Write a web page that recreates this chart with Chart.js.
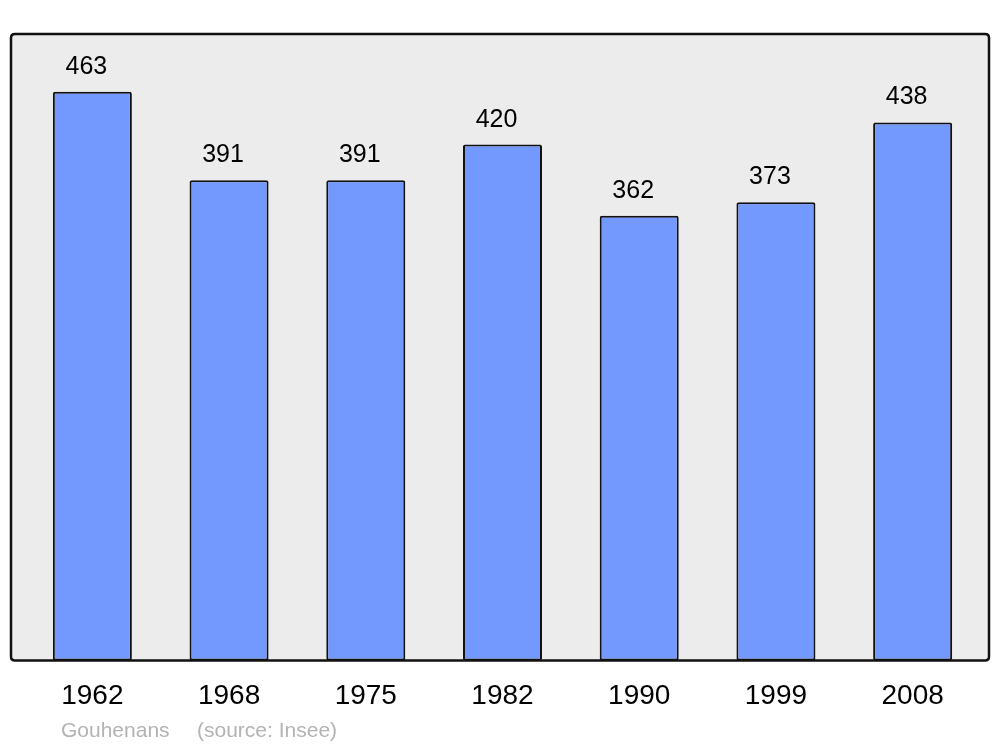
<!DOCTYPE html>
<html lang="fr">
<head>
  <meta charset="UTF-8" />
  <title>Gouhenans - population</title>
  <style>
    body { margin: 0; padding: 0; background: #ffffff; }
    #wrap { width: 1000px; height: 747px; }
  </style>
</head>
<body>
  <div id="wrap"><canvas id="popChart" width="1000" height="747"></canvas></div>

  <script src="https://cdn.jsdelivr.net/npm/chart.js"></script>
  <script>
    const annees = ["1962", "1968", "1975", "1982", "1990", "1999", "2008"];
    const population = [463, 391, 391, 420, 362, 373, 438];
    const commune = "Gouhenans";
    const source = "(source: Insee)";

    function roundRect(ctx, x, y, w, h, r) {
      ctx.beginPath();
      ctx.moveTo(x + r, y);
      ctx.lineTo(x + w - r, y);
      ctx.quadraticCurveTo(x + w, y, x + w, y + r);
      ctx.lineTo(x + w, y + h - r);
      ctx.quadraticCurveTo(x + w, y + h, x + w - r, y + h);
      ctx.lineTo(x + r, y + h);
      ctx.quadraticCurveTo(x, y + h, x, y + h - r);
      ctx.lineTo(x, y + r);
      ctx.quadraticCurveTo(x, y, x + r, y);
      ctx.closePath();
    }

    // cadre gris + etiquettes de valeurs + source
    const cadre = {
      id: "cadre",
      beforeDatasetsDraw(chart) {
        const ctx = chart.ctx;
        const a = chart.chartArea;
        ctx.save();
        roundRect(ctx, 11, a.top, 978, a.bottom - a.top, 4);
        ctx.fillStyle = "#ececec";
        ctx.fill();
        ctx.restore();
      },
      afterDatasetsDraw(chart) {
        const ctx = chart.ctx;
        const a = chart.chartArea;
        ctx.save();
        roundRect(ctx, 11, a.top, 978, a.bottom - a.top, 4);
        ctx.lineWidth = 2.5;
        ctx.strokeStyle = "#111111";
        ctx.stroke();

        ctx.fillStyle = "#000000";
        ctx.font = "25px 'Liberation Sans', Arial, sans-serif";
        ctx.textAlign = "center";
        ctx.textBaseline = "alphabetic";
        chart.getDatasetMeta(0).data.forEach((bar, i) => {
          ctx.fillText(String(population[i]), bar.x - 6, bar.y - 18);
        });

        ctx.fillStyle = "#b3b3b3";
        ctx.font = "21px 'Liberation Sans', Arial, sans-serif";
        ctx.textAlign = "left";
        ctx.fillText(commune, 61, 737);
        ctx.fillText(source, 197, 737);
        ctx.restore();
      }
    };

    new Chart(document.getElementById("popChart"), {
      type: "bar",
      data: {
        labels: annees,
        datasets: [{
          data: population,
          backgroundColor: "#7399ff",
          borderColor: "#111111",
          borderWidth: 2,
          borderRadius: 2,
          borderSkipped: false,
          barPercentage: 0.578,
          categoryPercentage: 1
        }]
      },
      options: {
        responsive: false,
        animation: false,
        layout: { padding: { left: 24, right: 19, top: 34, bottom: 23 } },
        plugins: {
          legend: { display: false },
          tooltip: { enabled: false }
        },
        scales: {
          x: {
            grid: { display: false },
            border: { display: false },
            ticks: {
              color: "#000000",
              padding: 11,
              font: { family: "'Liberation Sans', Arial, sans-serif", size: 28 }
            }
          },
          y: {
            display: false,
            min: 0,
            max: 510
          }
        }
      },
      plugins: [cadre]
    });
  </script>
</body>
</html>
